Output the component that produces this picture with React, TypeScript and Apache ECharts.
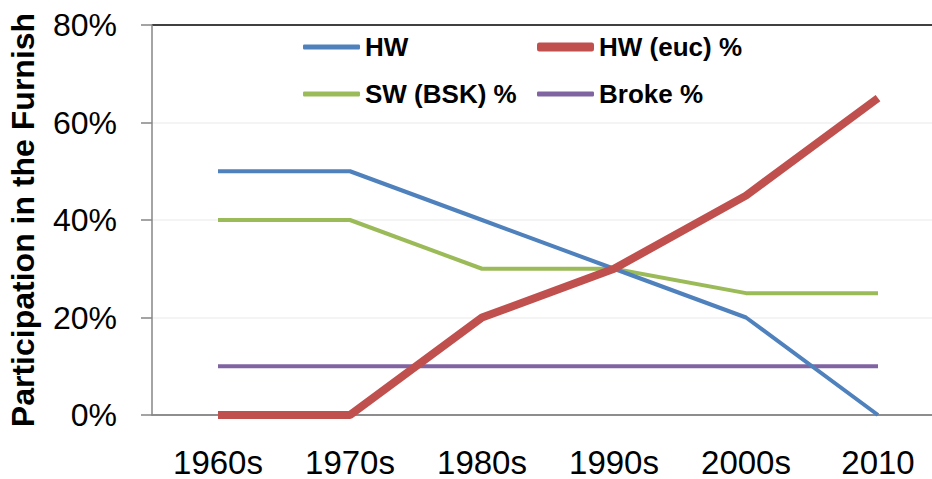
import React, { useEffect, useRef } from "react";
import * as echarts from "echarts";

const categories = ["1960s", "1970s", "1980s", "1990s", "2000s", "2010"];
const hw = [50, 50, 40, 30, 20, 0];
const hwEuc = [0, 0, 20, 30, 45, 65];
const swBsk = [40, 40, 30, 30, 25, 25];
const broke = [10, 10, 10, 10, 10, 10];
const seriesNames = ["HW", "HW (euc) %", "SW (BSK) %", "Broke %"];
const seriesColors = ["#4F81BD", "#C0504D", "#9BBB59", "#8064A2"];
const seriesWidths = [4, 8, 4, 4];
const seriesZ = [3, 4, 2, 1];
const seriesData = [hw, hwEuc, swBsk, broke];

export default function App() {
  const ref = useRef<HTMLDivElement>(null);
  useEffect(() => {
    if (!ref.current) return;
    const chart = echarts.init(ref.current, null, { renderer: "svg" });
    const font = "Liberation Sans";
    const legendText = { fontFamily: font, fontWeight: "bold", fontSize: 26, color: "#000", lineHeight: 28 };
    const legendPos = [
      { left: 303, top: 33 },
      { left: 537, top: 33 },
      { left: 303, top: 80 },
      { left: 537, top: 80 },
    ];
    chart.setOption({
      animation: false,
      backgroundColor: "#ffffff",
      grid: { left: 152, top: 25, width: 792, height: 390, outerBoundsMode: "none", containLabel: false },
      legend: seriesNames.map((n, i) => ({
        data: [{ name: n, icon: "roundRect", itemStyle: { color: seriesColors[i] } }],
        left: legendPos[i].left,
        top: legendPos[i].top,
        padding: 0,
        itemWidth: 57,
        itemHeight: seriesWidths[i] + 1,
        itemGap: 0,
        textStyle: legendText,
      })),
      xAxis: {
        type: "category",
        data: categories,
        boundaryGap: true,
        axisLine: { lineStyle: { color: "#868686", width: 1.5 } },
        axisTick: { show: false },
        axisLabel: { fontFamily: font, fontSize: 33, color: "#000", margin: 34, lineHeight: 27 },
      },
      yAxis: {
        type: "value",
        min: 0,
        max: 80,
        interval: 20,
        name: "Participation in the Furnish",
        nameLocation: "middle",
        nameGap: 113,
        nameTextStyle: { fontFamily: font, fontWeight: "bold", fontSize: 32, color: "#000" },
        axisLine: { show: true, lineStyle: { color: "#868686", width: 1.5 } },
        axisTick: { show: true, length: 11, lineStyle: { color: "#868686", width: 1.5 } },
        axisLabel: { fontFamily: font, fontSize: 32, color: "#000", margin: 35, formatter: "{value}%" },
        splitLine: {
          show: true,
          lineStyle: { color: ["#868686", "#f0f0f0", "#f0f0f0", "#f0f0f0", "#000000"], width: 1.5 },
        },
      },
      series: seriesNames.map((n, i) => ({
        name: n,
        type: "line",
        data: seriesData[i],
        symbol: "none",
        lineStyle: { color: seriesColors[i], width: seriesWidths[i] },
        itemStyle: { color: seriesColors[i] },
        z: seriesZ[i],
      })),
    });
    return () => chart.dispose();
  }, []);
  return (
    <div
      ref={ref}
      style={{ position: "fixed", left: 0, top: 0, width: 932, height: 479 }}
    />
  );
}
